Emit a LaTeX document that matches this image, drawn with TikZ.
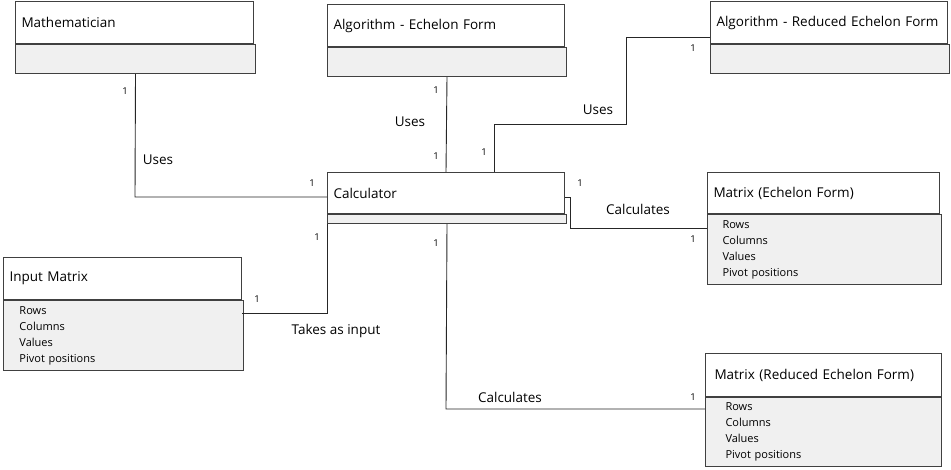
\documentclass[tikz,border=0pt]{standalone}
\usepackage{fontspec}
\setmainfont{Open Sans}
\definecolor{edge}{HTML}{404040}
\definecolor{comp}{HTML}{F0F0F0}
\tikzset{
  titlebox/.style={draw=edge, line width=1pt, fill=white, anchor=north west, minimum height=#1, inner xsep=6pt, inner ysep=0pt, align=left, font=\fontsize{13.5}{15}\selectfont},
  compbox/.style={draw=edge, line width=1pt, fill=comp, anchor=north west, minimum height=#1, inner xsep=15pt, inner ysep=0pt, align=left, font=\fontsize{11}{16}\selectfont},
  conn/.style={draw=black!85, line width=0.9pt},
  mult/.style={font=\fontsize{9.5}{10}\selectfont, inner sep=0pt},
  rel/.style={font=\fontsize{13.5}{15}\selectfont, inner sep=0pt}
}
\begin{document}
\begin{tikzpicture}[x=1pt,y=-1pt]
\useasboundingbox (0,0) rectangle (951,469);
% Mathematician
\node[titlebox=42pt, text width=226pt] (math) at (15,1) {Mathematician};
\node[compbox=29pt, text width=210pt] (mathc) at (math.south west) {};
% Algorithm - Echelon Form
\node[titlebox=42pt, text width=225pt] (alge) at (327,4) {Algorithm - Echelon Form};
\node[compbox=29pt, text width=209pt] (algec) at (alge.south west) {};
% Algorithm - Reduced Echelon Form
\node[titlebox=42pt, text width=225pt] (algr) at (710,1) {Algorithm - Reduced Echelon Form};
\node[compbox=29pt, text width=209pt] (algrc) at (algr.south west) {};
% Calculator
\node[titlebox=41pt, text width=225pt] (calc) at (327,172) {Calculator};
\node[compbox=9pt, text width=209pt] (calcc) at (calc.south west) {};
% Input Matrix
\node[titlebox=42pt, text width=226pt] (inm) at (3,257) {Input Matrix};
\node[compbox=70pt, text width=208pt, inner xsep=16pt] (inmc) at (inm.south west) {Rows\\Columns\\Values\\Pivot positions};
% Matrix (Echelon Form)
\node[titlebox=41pt, text width=220pt] (mef) at (707,172) {Matrix (Echelon Form)};
\node[compbox=70pt, text width=204pt] (mefc) at (mef.south west) {Rows\\Columns\\Values\\Pivot positions};
% Matrix (Reduced Echelon Form)
\node[titlebox=43pt, text width=218pt, inner xsep=9pt] (mref) at (705,353) {Matrix (Reduced Echelon Form)};
\node[compbox=69pt, text width=196pt, inner xsep=20pt] (mrefc) at (mref.south west) {Rows\\Columns\\Values\\Pivot positions};

% connectors
\coordinate (c1) at (135,197);
\draw[conn] (mathc.south) -- (c1) -- (calc.west |- c1);
\node[mult] at (125,91) {1};
\node[rel] at (158,160) {Uses};
\node[mult] at (312,183) {1};

\draw[conn] (algec.south) -- (calc.north);
\node[mult] at (436,90) {1};
\node[rel] at (410,122) {Uses};
\node[mult] at (436,156) {1};

\coordinate (r1) at (626,37);
\coordinate (r2) at (626,124);
\coordinate (r3) at (494,124);
\draw[conn] (algr.west |- r1) -- (r1) -- (r2) -- (r3) -- (r3 |- calc.north);
\node[mult] at (693,48) {1};
\node[rel] at (598,110) {Uses};
\node[mult] at (484,152) {1};

\coordinate (e1) at (570,197);
\coordinate (e2) at (570,228);
\draw[conn] (calc.east |- e1) -- (e1) -- (e2) -- (mef.west |- e2);
\node[mult] at (580,183) {1};
\node[rel] at (638,209) {Calculates};
\node[mult] at (693,239) {1};

\coordinate (i1) at (327,313);
\draw[conn] (calcc.south west) -- (i1) -- (inm.east |- i1);
\node[mult] at (317,237) {1};
\node[mult] at (257,299) {1};
\node[rel] at (336,331) {Takes as input};

\coordinate (m1) at (446,409);
\draw[conn] (calcc.south) -- (m1) -- (mref.west |- m1);
\node[mult] at (436,243) {1};
\node[rel] at (510,397) {Calculates};
\node[mult] at (693,397) {1};
\end{tikzpicture}
\end{document}
